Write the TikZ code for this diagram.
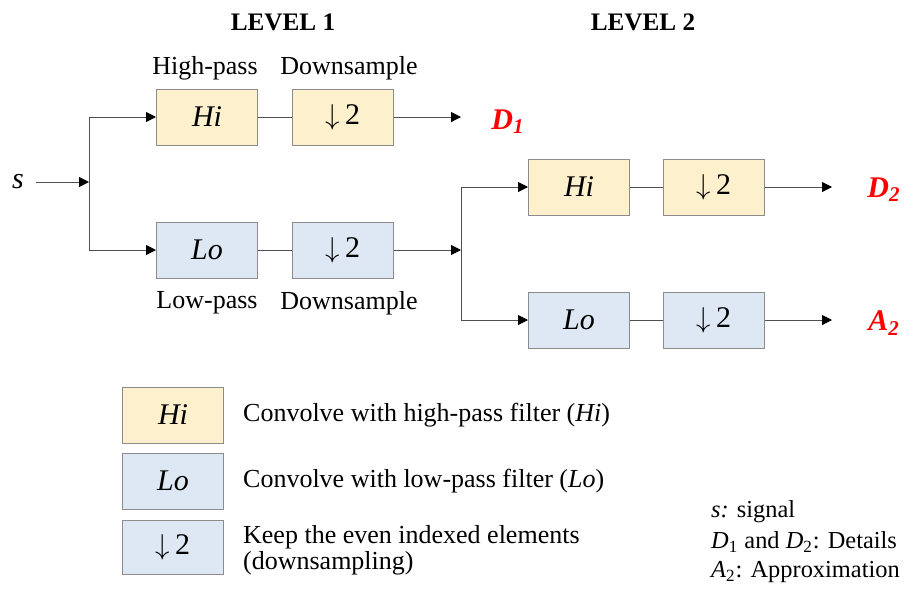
\documentclass[tikz,border=0pt]{standalone}
\usepackage{fontspec}
\setmainfont{Liberation Serif}
\usetikzlibrary{arrows.meta}
\definecolor{hifill}{HTML}{FDF0CD}
\definecolor{lofill}{HTML}{DEE8F4}
\definecolor{boxline}{HTML}{8C8C8C}
\definecolor{wire}{HTML}{505050}
\definecolor{outred}{HTML}{FF0000}
\newcommand{\dsix}{$\downarrow$\,2}
\begin{document}
\begin{tikzpicture}[x=0.5pt,y=-0.5pt,>={Triangle[length=5pt,width=5pt,color=black]},line width=0.5pt,
	blk/.style={draw=boxline,minimum width=50.5pt,minimum height=28pt,inner sep=0pt,font=\fontsize{15}{17}\selectfont},
	hibox/.style={blk,fill=hifill},
	lobox/.style={blk,fill=lofill},
	lbl/.style={font=\fontsize{13}{13}\selectfont},
	note/.style={font=\fontsize{12.2}{14}\selectfont,anchor=west},
	ttl/.style={font=\fontsize{12.6}{14}\selectfont\bfseries},
	outlbl/.style={text=outred,font=\fontsize{15}{17}\selectfont\bfseries\itshape}]
	\useasboundingbox (0,0) rectangle (919,596);
	\begin{scope}[every path/.append style={draw=wire}]
		% titles
		\node[ttl] (t1) at (283,22) {LEVEL 1};
		\node[ttl] (t2) at (643,22) {LEVEL 2};
		% level 1
		\node[lbl] (hp) at (205,68) {High-pass};
		\node[lbl] (ds1) at (349,68) {Downsample};
		\node[hibox] (hi1) at (207,117) {\textit{Hi}};
		\node[hibox] (dh1) at (343,117) {\dsix};
		\node[lobox] (lo1) at (207,250) {\textit{Lo}};
		\node[lobox] (dl1) at (343,250) {\dsix};
		\node[lbl] (lp) at (207,303) {Low-pass};
		\node[lbl] (ds2) at (349,303) {Downsample};
		\node[font=\fontsize{15}{17}\selectfont\itshape,inner sep=6pt] (s) at (18,182) {s};
		\coordinate (j1) at (89,182);
		\coordinate (e1) at (461,117);
		\node[outlbl] (d1) at (508,122) {D\textsubscript{1}};
		\draw[->] (s) -- (j1);
		\draw[->] (j1) |- (hi1);
		\draw[->] (j1) |- (lo1);
		\draw (hi1) -- (dh1);
		\draw (lo1) -- (dl1);
		\draw[->] (dh1) -- (e1);
		% level 2
		\node[hibox] (hi2) at (579,187) {\textit{Hi}};
		\node[hibox] (dh2) at (714,187) {\dsix};
		\node[lobox] (lo2) at (579,320) {\textit{Lo}};
		\node[lobox] (dl2) at (714,320) {\dsix};
		\coordinate (j2) at (461,250);
		\coordinate (e2) at (832,187);
		\coordinate (e3) at (832,320);
		\node[outlbl] (d2) at (884,190) {D\textsubscript{2}};
		\node[outlbl] (a2) at (884,323) {A\textsubscript{2}};
		\draw[->] (dl1) -- (j2);
		\draw[->] (j2) |- (hi2);
		\draw[->] (j2) |- (lo2);
		\draw (hi2) -- (dh2);
		\draw (lo2) -- (dl2);
		\draw[->] (dh2) -- (e2);
		\draw[->] (dl2) -- (e3);
	\end{scope}
	% legend
	\node[hibox] (khi) at (173,415) {\textit{Hi}};
	\node[lobox] (klo) at (173,481) {\textit{Lo}};
	\node[lobox,minimum height=27pt] (kds) at (173,547) {\dsix};
	\node[lbl,anchor=west] (thi) at (236,415) {Convolve with high-pass filter (\textit{Hi})};
	\node[lbl,anchor=west] (tlo) at (236,481) {Convolve with low-pass filter (\textit{Lo})};
	\node[lbl,anchor=west,align=left] (tds) at (236,550) {Keep the even indexed elements\\(downsampling)};
	% notes
	\node[note] (n1) at (704,512) {\textit{s:} signal};
	\node[note] (n2) at (704,542) {\textit{D}\textsubscript{1} and \textit{D}\textsubscript{2}: Details};
	\node[note] (n3) at (704,572) {\textit{A}\textsubscript{2}: Approximation};
\end{tikzpicture}
\end{document}
